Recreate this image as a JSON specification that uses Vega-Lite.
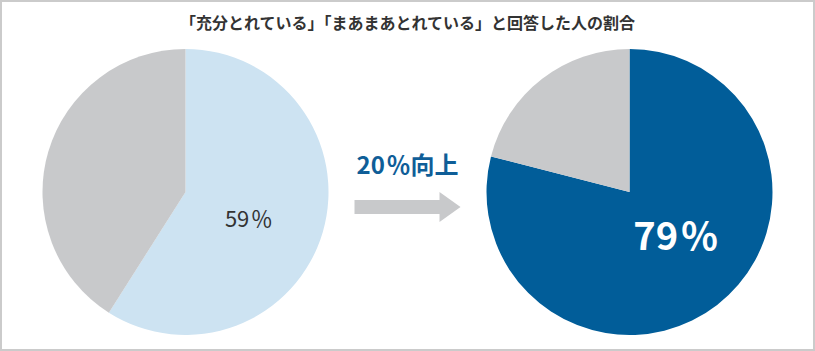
{
  "$schema": "https://vega.github.io/schema/vega-lite/v6.json",
  "width": 815,
  "height": 351,
  "autosize": {"type": "none"},
  "padding": 0,
  "background": "#ffffff",
  "config": {
    "view": {"stroke": "#cbcbcb", "strokeWidth": 4},
    "font": "Noto Sans CJK JP"
  },
  "title": {
    "text": "「充分とれている」「まあまあとれている」と回答した人の割合",
    "font": "Noto Sans CJK JP",
    "fontSize": 16,
    "fontWeight": "bold",
    "color": "#333333",
    "anchor": "middle",
    "offset": -32
  },
  "datasets": {
    "pies": [
      {"時期": "改善前", "回答": "とれている", "割合": 59, "表示": "59\u200a％"},
      {"時期": "改善前", "回答": "その他", "割合": 41, "表示": "41\u200a％"},
      {"時期": "改善後", "回答": "とれている", "割合": 79, "表示": "79\u200a％"},
      {"時期": "改善後", "回答": "その他", "割合": 21, "表示": "21\u200a％"}
    ]
  },
  "data": {"name": "pies"},
  "resolve": {"scale": {"color": "independent"}},
  "layer": [
    {
      "transform": [{"filter": "datum['時期'] === '改善前'"}],
      "mark": {"type": "arc", "outerRadius": 143, "strokeWidth": 0},
      "encoding": {
        "x": {"field": "時期", "type": "nominal", "scale": {"type": "point", "domain": ["改善前", "変化", "改善後"], "padding": 0.8356, "align": 0.5}, "axis": null},
        "y": {"datum": "割合", "type": "nominal", "scale": {"type": "point", "domain": ["割合"], "align": 0.547}, "axis": null},
        "theta": {"field": "割合", "type": "quantitative", "stack": true},
        "order": {"field": "回答", "sort": "descending"},
        "color": {"field": "回答", "type": "nominal", "scale": {"domain": ["とれている", "その他"], "range": ["#cde3f2", "#c8c9cb"]}, "legend": null}
      }
    },
    {
      "transform": [{"filter": "datum['時期'] === '改善後'"}],
      "mark": {"type": "arc", "outerRadius": 143, "strokeWidth": 0},
      "encoding": {
        "x": {"field": "時期", "type": "nominal", "scale": {"type": "point", "domain": ["改善前", "変化", "改善後"], "padding": 0.8356, "align": 0.5}, "axis": null},
        "y": {"datum": "割合", "type": "nominal", "scale": {"type": "point", "domain": ["割合"], "align": 0.547}, "axis": null},
        "theta": {"field": "割合", "type": "quantitative", "stack": true},
        "order": {"field": "回答", "sort": "descending"},
        "color": {"field": "回答", "type": "nominal", "scale": {"domain": ["とれている", "その他"], "range": ["#015d99", "#c8c9cb"]}, "legend": null}
      }
    },
    {
      "transform": [{"filter": "datum['時期'] === '改善前' && datum['回答'] === 'とれている'"}],
      "mark": {"type": "text", "radius": 68, "dy": 9, "dx": -2, "fontSize": 22, "color": "#333333", "align": "center", "baseline": "middle"},
      "encoding": {
        "x": {"field": "時期", "type": "nominal", "scale": {"type": "point", "domain": ["改善前", "変化", "改善後"], "padding": 0.8356, "align": 0.5}, "axis": null},
        "y": {"datum": "割合", "type": "nominal", "scale": {"type": "point", "domain": ["割合"], "align": 0.547}, "axis": null},
        "theta": {"field": "割合", "type": "quantitative", "stack": true},
        "text": {"field": "表示", "type": "nominal"}
      }
    },
    {
      "transform": [{"filter": "datum['時期'] === '改善後' && datum['回答'] === 'とれている'"}],
      "mark": {"type": "text", "radius": 66, "dy": -5, "dx": 6, "fontSize": 38, "fontWeight": "bold", "color": "#ffffff", "align": "center", "baseline": "middle"},
      "encoding": {
        "x": {"field": "時期", "type": "nominal", "scale": {"type": "point", "domain": ["改善前", "変化", "改善後"], "padding": 0.8356, "align": 0.5}, "axis": null},
        "y": {"datum": "割合", "type": "nominal", "scale": {"type": "point", "domain": ["割合"], "align": 0.547}, "axis": null},
        "theta": {"field": "割合", "type": "quantitative", "stack": true},
        "text": {"field": "表示", "type": "nominal"}
      }
    },
    {
      "data": {"values": [{"変化": "20\u200a％向上"}]},
      "layer": [
        {
          "mark": {"type": "point", "filled": true, "opacity": 1, "strokeWidth": 0, "color": "#c8c9cb", "size": 11236, "shape": "M-1,0.151 L0.604,0.151 L0.604,0 L1,0.283 L0.604,0.566 L0.604,0.415 L-1,0.415 Z"},
          "encoding": {
            "x": {"datum": "変化", "type": "nominal", "scale": {"type": "point", "domain": ["改善前", "変化", "改善後"], "padding": 0.8356, "align": 0.5}, "axis": null},
            "y": {"datum": "割合", "type": "nominal", "scale": {"type": "point", "domain": ["割合"], "align": 0.547}, "axis": null}
          }
        },
        {
          "mark": {"type": "text", "dy": -25, "fontSize": 24, "fontWeight": "bold", "color": "#0f5e98", "align": "center", "baseline": "middle"},
          "encoding": {
            "x": {"datum": "変化", "type": "nominal", "scale": {"type": "point", "domain": ["改善前", "変化", "改善後"], "padding": 0.8356, "align": 0.5}, "axis": null},
            "y": {"datum": "割合", "type": "nominal", "scale": {"type": "point", "domain": ["割合"], "align": 0.547}, "axis": null},
            "text": {"field": "変化", "type": "nominal"}
          }
        }
      ]
    }
  ]
}
